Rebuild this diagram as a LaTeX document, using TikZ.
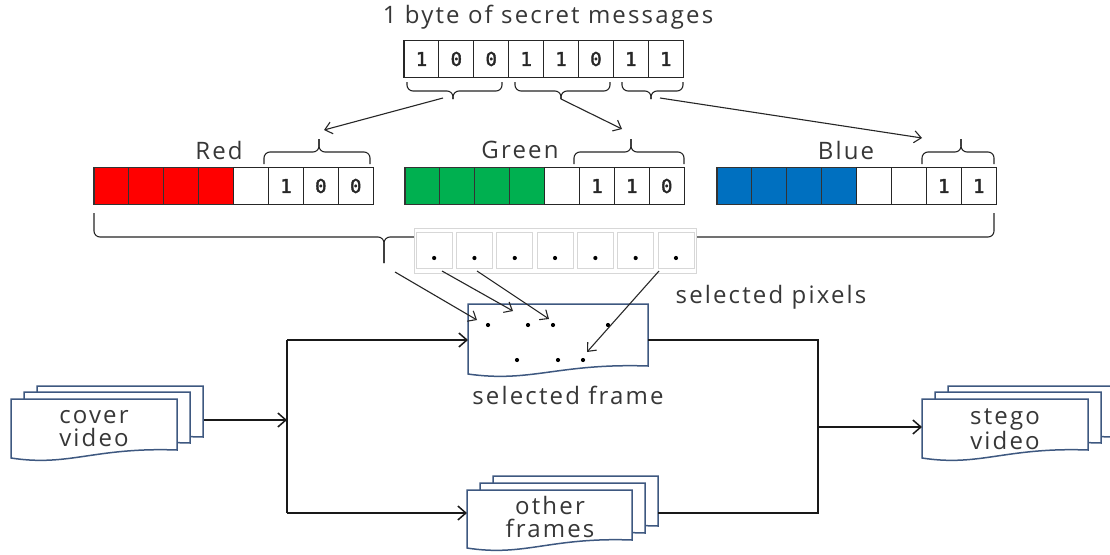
\documentclass[tikz,border=0pt]{standalone}
\usepackage{fontspec}
\setmainfont{Open Sans}[LetterSpace=9]
\newfontfamily\bitfont{DejaVu Sans Mono}[FakeBold=2]
\usetikzlibrary{arrows.meta,calc}

\definecolor{txt}{RGB}{55,55,55}
\definecolor{docblue}{RGB}{62,88,128}
\definecolor{cred}{RGB}{255,0,0}
\definecolor{cgreen}{RGB}{0,176,80}
\definecolor{cblue}{RGB}{0,112,192}
\definecolor{pixgray}{RGB}{215,215,215}

\tikzset{
  bit/.style={draw=black!85, line width=1.1pt, minimum width=34.9pt, minimum height=37pt,
              inner sep=0pt, font=\bitfont\fontsize{19}{19}\selectfont, text=black!85},
  colcell/.style={bit, draw=black!80},
  brc/.style={draw=black!85, line width=1.1pt, rounded corners=6pt},
  thin/.style={draw=black!85, line width=1.1pt, -{Straight Barb[length=7pt,width=12pt,line width=1.1pt]}},
  flow/.style={draw=black!90, line width=1.7pt},
  flowarrow/.style={flow, -{Straight Barb[length=8pt,width=14pt,line width=1.5pt]}},
  doc/.style={draw=docblue, line width=1.5pt, fill=white},
  label/.style={text=txt, font=\fontsize{24}{24}\selectfont, inner sep=0pt},
  doclabel/.style={text=txt, font=\fontsize{24}{23}\selectfont, align=center, inner sep=0pt},
  pixcell/.style={draw=pixgray, line width=0.9pt, fill=white, minimum width=36pt, minimum height=36pt, inner sep=0pt},
  dot/.style={circle, fill=black, inner sep=0pt, minimum size=4.2pt}
}

% sheet with a wavy lower edge: left x, top y, width, height
\newcommand\sheet[4]{%
  \path[doc] (#1,#2) -- ({#1+#3},#2) -- ({#1+#3},{#2+#4-8})
    .. controls ({#1+0.5*#3},{#2+#4-11}) and ({#1+0.35*#3},{#2+#4+9}) .. (#1,{#2+#4}) -- cycle;}

\begin{document}
\begin{tikzpicture}[x=1pt,y=-1pt]
\clip (0,0) rectangle (1110,554);
\fill[white] (0,0) rectangle (1110,554);

% ---- the secret byte ----
\node[label] (title) at (548,17) {1 byte of secret messages};
\foreach \b [count=\i] in {1,0,0,1,1,0,1,1}
  \node[bit] (m\i) at ({404+34.9*(\i-0.5)},59) {\b};

% braces grouping the bits 3/3/2
\draw[brc] (407,82) -- (407,91) -- (453,91) -- (453,99);
\draw[brc] (502,82) -- (502,91) -- (453,91) -- (453,99);
\draw[brc] (515,82) -- (515,91) -- (561,91) -- (561,99);
\draw[brc] (610,82) -- (610,91) -- (561,91) -- (561,99);
\draw[brc] (622,82) -- (622,91) -- (651,91) -- (651,99);
\draw[brc] (683,82) -- (683,91) -- (651,91) -- (651,99);
\coordinate (grp1) at (443,98);
\coordinate (grp2) at (561,99);
\coordinate (grp3) at (660,98);

% ---- colour channels ----
\node[label] (lr) at (219,150) {Red};
\node[label] (lg) at (520,150) {Green};
\node[label] (lb) at (846,150) {Blue};

\foreach \i in {1,...,4}{
  \node[colcell, fill=cred]   (rc\i) at ({94+34.9*(\i-0.5)},186) {};
  \node[colcell, fill=cgreen] (gc\i) at ({405+34.9*(\i-0.5)},186) {};
  \node[colcell, fill=cblue]  (bc\i) at ({717+34.9*(\i-0.5)},186) {};
}
\foreach \b [count=\i from 5] in {{},1,0,0}
  \node[bit] (rc\i) at ({94+34.9*(\i-0.5)},186) {\b};
\foreach \b [count=\i from 5] in {{},1,1,0}
  \node[bit] (gc\i) at ({405+34.9*(\i-0.5)},186) {\b};
\foreach \b [count=\i from 5] in {{},{},1,1}
  \node[bit] (bc\i) at ({717+34.9*(\i-0.5)},186) {\b};

% braces over the low-order bits
\draw[brc] (264,164) -- (264,152) -- (319,152) -- (319,139);
\draw[brc] (370,164) -- (370,152) -- (319,152) -- (319,139);
\draw[brc] (574,164) -- (574,152) -- (631,152) -- (631,139);
\draw[brc] (684,164) -- (684,152) -- (631,152) -- (631,139);
\draw[brc] (922,164) -- (922,152) -- (961,152) -- (961,139);
\draw[brc] (994,164) -- (994,152) -- (961,152) -- (961,139);
\coordinate (tip1) at (324,130);
\coordinate (tip2) at (622,129);
\coordinate (tip3) at (922,138);

\draw[thin] (grp1) -- (tip1);
\draw[thin] (grp2) -- (tip2);
\draw[thin] (grp3) -- (tip3);

% brace over the whole pixel
\draw[brc] (94,213) -- (94,237) -- (384,237) -- (384,263);
\draw[brc] (994,213) -- (994,237) -- (384,237) -- (384,263);

% ---- selected pixels ----
\draw[pixgray, line width=0.9pt, fill=white] (414,228) rectangle (696,273);
\foreach \i in {1,...,7}{
  \node[pixcell] (p\i) at ({414+40.3*(\i-0.5)},250.5) {};
  \node[dot] (pd\i) at ({414+40.3*(\i-0.5)},258) {};
}
\node[label] (selpix) at (771,297) {selected pixels};

% ---- main flow ----
\sheet{37}{386}{166}{59}
\sheet{24}{392}{166}{59}
\sheet{11}{399}{166}{59}
\node[doclabel] (cover) at (94,429) {cover\\video};

\sheet{468}{304}{180}{70}
\node[label] (selcap) at (568,395) {selected frame};
\coordinate (fin) at (468,340);
\coordinate (fout) at (648,340);

\foreach \x/\y in {488/325,528/325,553/325,608/325,517/360,558/360,583/360}
  \node[dot] at (\x,\y) {};

\sheet{493}{476}{165}{58}
\sheet{480}{483}{165}{58}
\sheet{467}{490}{165}{58}
\node[doclabel] (other) at (550,517) {other\\frames};
\coordinate (oin) at (467,513);
\coordinate (oout) at (658,513);

\sheet{948}{386}{166}{59}
\sheet{935}{392}{166}{59}
\sheet{922}{399}{166}{59}
\node[doclabel] (stego) at (1005,429) {stego\\video};

\coordinate (cout) at (204,420);
\coordinate (split) at (287,420);
\coordinate (join) at (818,427);
\coordinate (sin) at (922,427);

\draw[flowarrow] (cout) -- (split);
\draw[flow] (287,340) -- (287,513);
\draw[flowarrow] (287,340) -- (fin);
\draw[flowarrow] (287,513) -- (oin);
\draw[flow] (fout) -- (818,340) -- (818,513) -- (oout);
\draw[flowarrow] (join) -- (sin);

% pixels placed into the frame
\draw[thin] (395,272) -- (477,320);
\draw[thin] (442,271) -- (513,311);
\draw[thin] (477,271) -- (549,319);
\draw[thin] (659,271) -- (587,352);
\end{tikzpicture}
\end{document}
